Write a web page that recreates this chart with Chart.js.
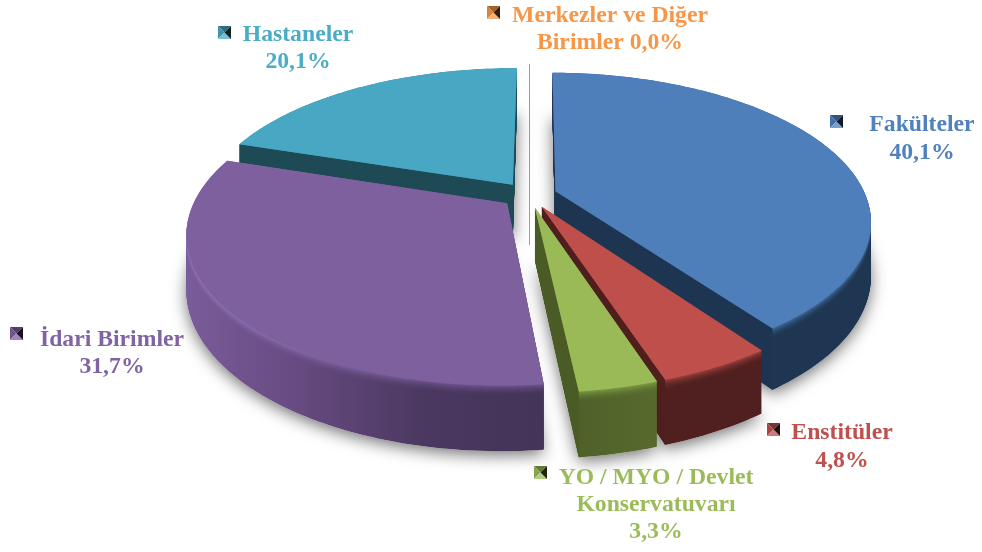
<!DOCTYPE html>
<html><head><meta charset="utf-8">
<style>html,body{margin:0;padding:0;background:#fff}canvas{display:block}</style>
<script src="https://cdn.jsdelivr.net/npm/chart.js@4"></script>
</head><body>
<canvas id="c" width="982" height="552"></canvas>
<script>
const categories = ["Fakülteler","Enstitüler","YO / MYO / Devlet Konservatuvarı","İdari Birimler","Hastaneler","Merkezler ve Diğer Birimler"];
const values = [40.1,4.8,3.3,31.7,20.1,0.0];
const topColors = ["#4E7FBB","#BE4F4B","#99BA57","#7F609F","#48A8C4","#F79646"];
const labelColors = ["#4F81BD","#C0504D","#9BBB59","#8064A2","#4BACC6","#F79646"];
const wallStops = [["#1F3752","#1F3652"],["#4F201F","#4F201F"],["#4A5C26","#566A2E"],["#7A5C9A","#65497F","#4A3860","#443458"],["#1F4A56","#1F4A56"],["#888888","#888888"]];
const wallFlat = ["#1E3551","#4F1F1E","#4B5B25","#4A3860","#1E4A56","#888888"];
const rimStops = [["#3E6A9F","#3E6A9F"],["#9E403D","#9E403D"],["#7F9C45","#7F9C45"],["#9078B8","#8468A8","#6F5590","#6F5590"],["#3E90A8","#3E90A8"],["#F79646","#F79646"]];
const labelLines = [["Fakülteler"],["Enstitüler"],["YO / MYO / Devlet","Konservatuvarı"],["İdari Birimler"],["Hastaneler"],["Merkezler ve Diğer","Birimler"]];
const labelAnchors = [[922,131,28],[842,439,28],[656,484,27],[112,346,27],[298,41,27],[610,22,27]];
const markerAnchors = [[830,115],[767,423],[534,466],[10,327],[218,26],[487,6]];
const drawOrder = [5,4,0,1,2,3];

const CX=529,CY=195,RX=310,RY=143,K=0.196,DEPTH=52,EXPLODE=0.09,BEVEL=9;
function proj(X,Y,d){const w=1-K*Y;return [CX+RX*X/w,CY+RY*Y/w+(d||0)/w];}
function hexRgb(h){return [1,3,5].map(i=>parseInt(h.substr(i,2),16));}
function mix(a,b,t){const A=hexRgb(a),B=hexRgb(b);return 'rgb('+A.map((v,i)=>Math.round(v+(B[i]-v)*t)).join(',')+')';}
function slicePts(a0,a1,d){
  const mid=(a0+a1)/2,ox=EXPLODE*Math.sin(mid),oy=-EXPLODE*Math.cos(mid);
  const pts=[proj(ox,oy,d)],n=Math.max(2,Math.ceil((a1-a0)/0.02));
  for(let i=0;i<=n;i++){const t=a0+(a1-a0)*i/n;pts.push(proj(ox+Math.sin(t),oy-Math.cos(t),d));}
  return pts;
}
function trace(ctx,pts){ctx.beginPath();pts.forEach((p,i)=>i?ctx.lineTo(p[0],p[1]):ctx.moveTo(p[0],p[1]));ctx.closePath();}
function edgeQuad(a0,a1,ang){
  const mid=(a0+a1)/2,ox=EXPLODE*Math.sin(mid),oy=-EXPLODE*Math.cos(mid);
  const X=ox+Math.sin(ang),Y=oy-Math.cos(ang);
  return [proj(ox,oy,0),proj(X,Y,0),proj(X,Y,DEPTH),proj(ox,oy,DEPTH)];
}
const pie3d={id:'pie3d',
  beforeDatasetDraw(){return false;},
  afterDatasetsDraw(chart){
    const ctx=chart.ctx,arcs=chart.getDatasetMeta(0).data;
    const ang=arcs.map(a=>[a.startAngle+Math.PI/2,a.endAngle+Math.PI/2]);
    ctx.save();
    ctx.save();ctx.shadowColor='rgba(0,0,0,0.55)';ctx.shadowBlur=16;ctx.shadowOffsetY=4;ctx.fillStyle='#fff';
    const shadowPath=new Path2D();
    for(const i of drawOrder){if(values[i]>0){
      slicePts(ang[i][0],ang[i][1],DEPTH).forEach((p,j)=>j?shadowPath.lineTo(p[0],p[1]):shadowPath.moveTo(p[0],p[1]));
      shadowPath.closePath();
    }}
    ctx.fill(shadowPath);
    ctx.restore();
    for(const i of drawOrder){
      const [a0,a1]=ang[i];
      if(values[i]===0){
        ctx.strokeStyle='#A59A92';ctx.lineWidth=1;ctx.beginPath();ctx.moveTo(CX+.5,64);ctx.lineTo(CX+.5,245);ctx.stroke();
        continue;
      }
      const base=slicePts(a0,a1,0);
      let minX=1e9,maxX=-1e9;base.forEach(p=>{minX=Math.min(minX,p[0]);maxX=Math.max(maxX,p[0]);});
      const st=wallStops[i],rs=rimStops[i];
      for(let d=DEPTH;d>=0;d-=0.5){
        const t=d<BEVEL?1-d/BEVEL:0;
        const g=ctx.createLinearGradient(minX,0,maxX,0);
        st.forEach((c,j)=>g.addColorStop(j/(st.length-1),mix(c,rs[j],t*t)));
        ctx.fillStyle=g;
        trace(ctx,slicePts(a0,a1,d));ctx.fill();
      }
      ctx.fillStyle=wallFlat[i];
      const s=edgeQuad(a0,a1,a0),e=edgeQuad(a0,a1,a1);
      if(s[1][0]-s[0][0]<0){trace(ctx,s);ctx.fill();}
      if(e[1][0]-e[0][0]>0){trace(ctx,e);ctx.fill();}
      ctx.fillStyle=topColors[i];trace(ctx,base);ctx.fill();
    }
    ctx.restore();
    ctx.save();
    values.forEach((v,i)=>{
      const [mx,my]=markerAnchors[i],S=13,c=topColors[i];
      const tri=(a,b,col)=>{ctx.fillStyle=col;ctx.beginPath();ctx.moveTo(mx+a[0],my+a[1]);ctx.lineTo(mx+b[0],my+b[1]);ctx.lineTo(mx+S/2,my+S/2);ctx.closePath();ctx.fill();};
      tri([0,0],[S,0],mix(c,'#000000',.35));
      tri([0,0],[0,S],mix(c,'#000000',.12));
      tri([0,S],[S,S],mix(c,'#ffffff',.25));
      tri([S,0],[S,S],mix(c,'#000000',.8));
      ctx.font='bold 23.7px "Liberation Serif"';ctx.textAlign='center';ctx.textBaseline='alphabetic';ctx.fillStyle=labelColors[i];
      const [lx,ly,lh]=labelAnchors[i];
      const lines=labelLines[i].slice();
      const pct=v.toFixed(1).replace('.',',')+'%';
      if(i===5){lines[lines.length-1]+=' '+pct;}else{lines.push(pct);}
      lines.forEach((t,j)=>ctx.fillText(t,lx,ly+j*lh));
    });
    ctx.restore();
  }
};
new Chart(document.getElementById('c'),{
  type:'pie',
  data:{labels:categories,datasets:[{data:values,backgroundColor:topColors,borderWidth:0}]},
  options:{responsive:false,animation:false,rotation:0.3,plugins:{legend:{display:false},tooltip:{enabled:false}},layout:{padding:0}},
  plugins:[pie3d]
});
</script>
</body></html>
